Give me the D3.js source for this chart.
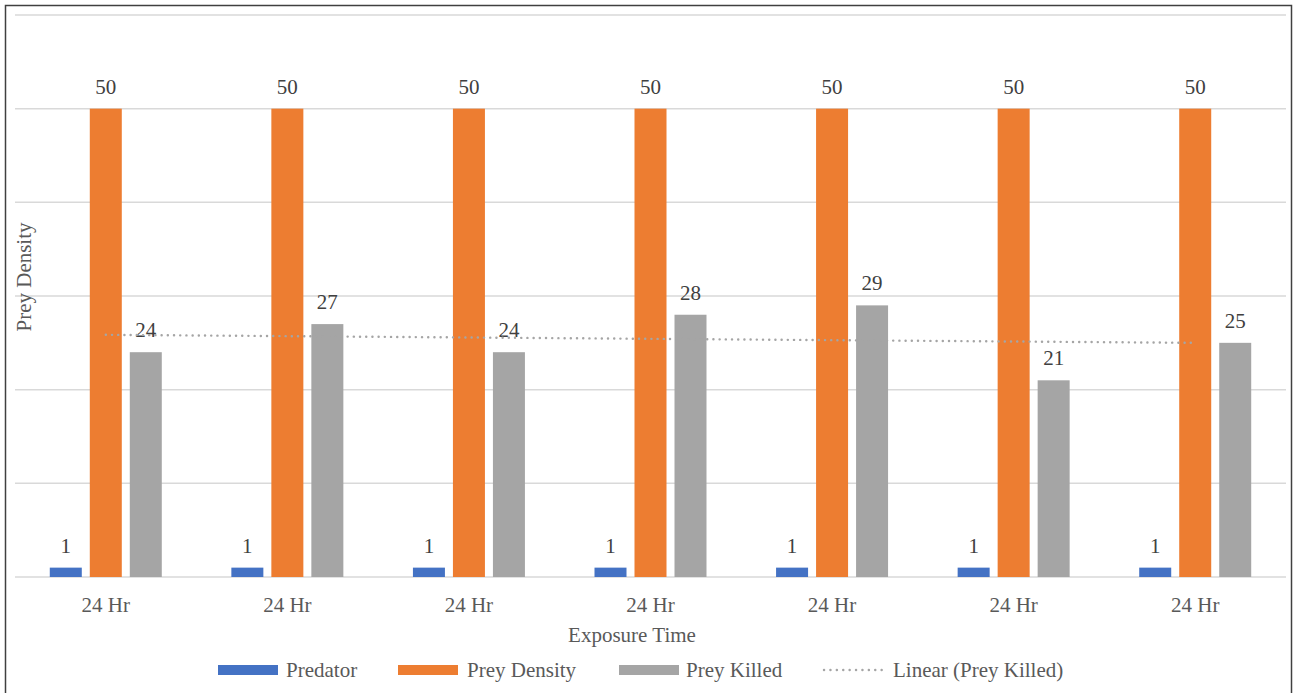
<!DOCTYPE html>
<html>
<head>
<meta charset="utf-8">
<script src="https://cdn.jsdelivr.net/npm/d3@7"></script>
<style>
  html, body { margin: 0; padding: 0; background: #fff; }
  svg { display: block; }
</style>
</head>
<body>
<svg id="chart" width="1293" height="693" font-family="'Liberation Serif', 'DejaVu Serif', serif"></svg>
<script>
// Exposure-time groups and the three series plotted for each
const categories = ["24 Hr", "24 Hr", "24 Hr", "24 Hr", "24 Hr", "24 Hr", "24 Hr"];
const predator = [1, 1, 1, 1, 1, 1, 1];
const preyDensity = [50, 50, 50, 50, 50, 50, 50];
const preyKilled = [24, 27, 24, 28, 29, 21, 25];
const seriesNames = ["Predator", "Prey Density", "Prey Killed"];
const seriesColors = ["#4472C4", "#ED7D31", "#A5A5A5"];
const gridTicks = [0, 10, 20, 30, 40, 50, 60];

const FONT = "'Liberation Serif', 'Times New Roman', serif";
const TEXT = "#595959";
const plot = { left: 15, right: 1286, top: 15, bottom: 577 };

const svg = d3.select("#chart");

// outer frame
svg.append("rect")
  .attr("x", 5.5).attr("y", 5.5)
  .attr("width", 1286).attr("height", 700)
  .attr("fill", "none").attr("stroke", "#404040").attr("stroke-width", 1.5);

const x = d3.scaleBand()
  .domain(d3.range(categories.length))
  .range([plot.left, plot.right])
  .paddingInner(0).paddingOuter(0);

const y = d3.scaleLinear().domain([0, 60]).range([plot.bottom, plot.top]);

// inner offsets for the three bars in a group
const xs = d3.scaleBand()
  .domain(d3.range(seriesNames.length))
  .range([-56, 56])
  .paddingInner(0.2).paddingOuter(0);

// horizontal gridlines
svg.append("g").selectAll("line")
  .data(gridTicks)
  .join("line")
  .attr("x1", plot.left).attr("x2", plot.right)
  .attr("y1", d => y(d)).attr("y2", d => y(d))
  .attr("stroke", "#D9D9D9").attr("stroke-width", 1.5);

const rows = categories.map((c, i) => [predator[i], preyDensity[i], preyKilled[i]]);

const groups = svg.append("g").selectAll("g")
  .data(rows)
  .join("g")
  .attr("transform", (d, i) => `translate(${x(i) + x.bandwidth() / 2},0)`);

groups.selectAll("rect")
  .data(d => d.map((v, s) => ({ v, s })))
  .join("rect")
  .attr("x", d => xs(d.s))
  .attr("width", xs.bandwidth())
  .attr("y", d => y(d.v))
  .attr("height", d => y(0) - y(d.v))
  .attr("fill", d => seriesColors[d.s]);

// linear trendline fitted to Prey Killed
const n = preyKilled.length;
const xIdx = d3.range(1, n + 1);
const mx = d3.mean(xIdx), my = d3.mean(preyKilled);
const slope = d3.sum(xIdx, (xi, i) => (xi - mx) * (preyKilled[i] - my)) / d3.sum(xIdx, xi => (xi - mx) ** 2);
const intercept = my - slope * mx;
const trend = xIdx.map(xi => intercept + slope * xi);

svg.append("path")
  .datum(trend)
  .attr("d", d3.line().x((d, i) => x(i) + x.bandwidth() / 2).y(d => y(d)))
  .attr("fill", "none")
  .attr("stroke", "#A5A5A5")
  .attr("stroke-width", 2.4)
  .attr("stroke-dasharray", "0.1 6.1")
  .attr("stroke-linecap", "round");

// value labels
groups.selectAll("text")
  .data(d => d.map((v, s) => ({ v, s })))
  .join("text")
  .attr("x", d => xs(d.s) + xs.bandwidth() / 2)
  .attr("y", d => y(d.v) - 15)
  .attr("text-anchor", "middle")
  .attr("font-family", FONT)
  .attr("font-size", 21)
  .attr("fill", "#404040")
  .text(d => d.v);

// category labels
svg.append("g").selectAll("text")
  .data(categories)
  .join("text")
  .attr("x", (d, i) => x(i) + x.bandwidth() / 2)
  .attr("y", 612)
  .attr("text-anchor", "middle")
  .attr("font-family", FONT)
  .attr("font-size", 21)
  .attr("fill", TEXT)
  .text(d => d);

// axis titles
svg.append("text")
  .attr("x", 632).attr("y", 642)
  .attr("text-anchor", "middle")
  .attr("font-family", FONT)
  .attr("font-size", 21)
  .attr("fill", TEXT)
  .text("Exposure Time");

svg.append("text")
  .attr("transform", "translate(31,277) rotate(-90)")
  .attr("text-anchor", "middle")
  .attr("font-family", FONT)
  .attr("font-size", 21)
  .attr("fill", TEXT)
  .text("Prey Density");

// legend
const legendItems = [
  { name: "Predator", color: seriesColors[0], sx: 218, tx: 286, type: "bar" },
  { name: "Prey Density", color: seriesColors[1], sx: 398, tx: 467, type: "bar" },
  { name: "Prey Killed", color: seriesColors[2], sx: 619, tx: 686, type: "bar" },
  { name: "Linear (Prey Killed)", color: seriesColors[2], sx: 823, tx: 893, type: "line" }
];
const lg = svg.append("g");
legendItems.forEach(it => {
  if (it.type === "bar") {
    lg.append("rect")
      .attr("x", it.sx).attr("y", 665)
      .attr("width", 60).attr("height", 10)
      .attr("fill", it.color);
  } else {
    lg.append("line")
      .attr("x1", it.sx + 1).attr("x2", it.sx + 59)
      .attr("y1", 670).attr("y2", 670)
      .attr("stroke", it.color).attr("stroke-width", 2.4)
      .attr("stroke-dasharray", "0.1 6.3")
      .attr("stroke-linecap", "round");
  }
  lg.append("text")
    .attr("x", it.tx).attr("y", 677)
    .attr("font-family", FONT)
    .attr("font-size", 21)
    .attr("fill", TEXT)
    .text(it.name);
});
</script>
</body>
</html>
